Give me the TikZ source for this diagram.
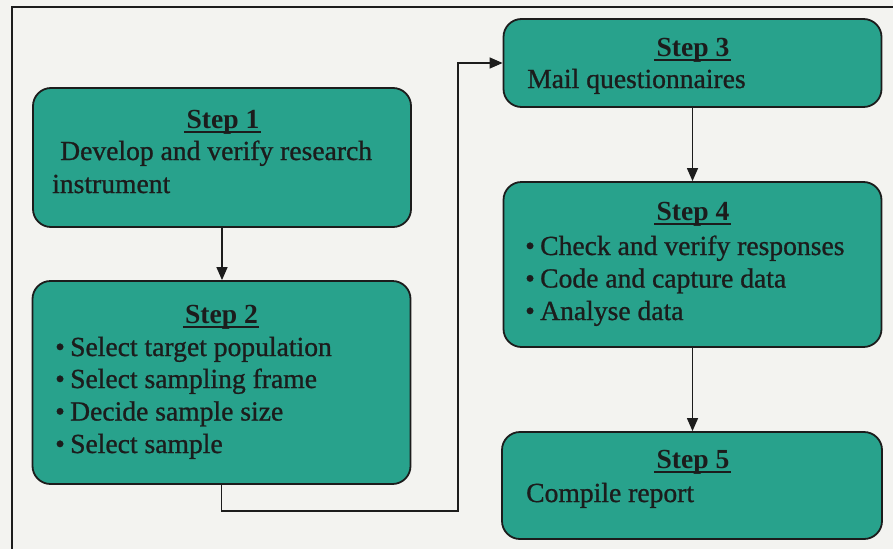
\documentclass[tikz,border=0pt]{standalone}
\usepackage{fontspec}
\setmainfont{Liberation Serif}
% slightly heavier strokes for the body lines
\newfontfamily\bodyfont{Liberation Serif}[UprightFeatures={FakeBold=0.9}]
\usetikzlibrary{arrows.meta}
\definecolor{stepfill}{RGB}{40,162,140}
\definecolor{paper}{RGB}{243,243,240}
\definecolor{ink}{RGB}{28,28,28}

\begin{document}
\begin{tikzpicture}[x=1pt,y=-1pt,
  stepbox/.style={draw=ink, line width=1.8pt, fill=stepfill, rounded corners=18pt,
    minimum width=378pt, inner sep=0pt},
  steptitle/.style={anchor=base, inner sep=0pt, text=ink,
    font=\fontsize{27.6}{32.5}\selectfont\bfseries},
  steptext/.style={anchor=base west, inner sep=0pt, text=ink,
    font=\fontsize{27.6}{32.5}\bodyfont},
  titlerule/.style={draw=ink, line width=1.4pt},
  flow/.style={draw=ink, line width=1.3pt, -{Triangle[length=13pt,width=11pt]}}
]
% page and outer frame
\fill[paper] (0,0) rectangle (893,549);
\useasboundingbox (0,0) rectangle (893,549);
\draw[ink, line width=1.5pt] (893,7) -- (12,7) -- (12,549);

\newcommand{\bul}[1]{\makebox[15pt][l]{•}#1}

% step boxes
\node[stepbox, minimum height=139pt] (s1) at (222,157.5) {};
\node[stepbox, minimum height=203pt] (s2) at (221.5,382.5) {};
\node[stepbox, minimum height=88pt]  (s3) at (692.5,63) {};
\node[stepbox, minimum height=165pt] (s4) at (692.5,264.5) {};
\node[stepbox, minimum height=107pt, minimum width=380pt] (s5) at (692,485.5) {};

% step 1
\node[steptitle] (t1) at (223,128) {Step 1};
\node[steptext] (s1a) at (60,160) {Develop and verify research};
\node[steptext] (s1b) at (52,193) {instrument};

% step 2
\node[steptitle] (t2) at (221.5,323) {Step 2};
\node[steptext] (s2a) at (55,356) {\bul{Select target population}};
\node[steptext] (s2b) at (55,388) {\bul{Select sampling frame}};
\node[steptext] (s2c) at (55,420.5) {\bul{Decide sample size}};
\node[steptext] (s2d) at (55,453) {\bul{Select sample}};

% step 3
\node[steptitle] (t3) at (693,56) {Step 3};
\node[steptext] (s3a) at (527,88) {Mail questionnaires};

% step 4
\node[steptitle] (t4) at (693,220) {Step 4};
\node[steptext] (s4a) at (525,255) {\bul{Check and verify responses}};
\node[steptext] (s4b) at (525,287.5) {\bul{Code and capture data}};
\node[steptext] (s4c) at (525,320) {\bul{Analyse data}};

% step 5
\node[steptitle] (t5) at (693,468) {Step 5};
\node[steptext] (s5a) at (526,502) {Compile report};

% underlined headings
\foreach \t in {t1,t2,t3,t4,t5}
  \draw[titlerule] ([xshift=-2pt,yshift=-4pt]\t.base west) -- ([xshift=1pt,yshift=-4pt]\t.base east);

% connectors
\coordinate (bend) at (458,511);
\draw[flow] (s1.south) -- (s1.south |- s2.north);
\draw[flow] (s2.south) |- (bend) |- (s3.west);
\draw[flow] (s3.south) -- (s3.south |- s4.north);
\draw[flow] (s4.south) -- (s4.south |- s5.north);
\end{tikzpicture}
\end{document}
